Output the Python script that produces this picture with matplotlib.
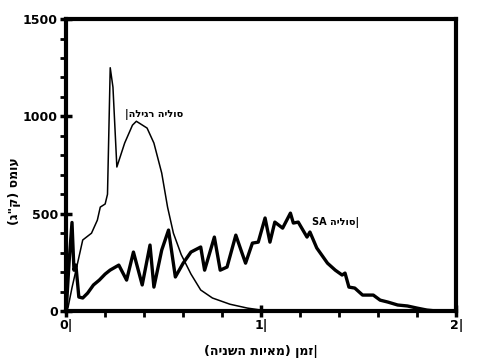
import numpy as np
import matplotlib.pyplot as plt
from matplotlib.ticker import MultipleLocator

plt.rcParams['font.family'] = ['DejaVu Sans']

# סוליה רגילה - thin curve
t_reg = [0, 0.01, 0.03, 0.055, 0.085, 0.13, 0.16, 0.175, 0.2, 0.212, 0.226, 0.24, 0.26,
         0.30, 0.34, 0.36, 0.415, 0.45, 0.49, 0.52, 0.55, 0.59, 0.64, 0.69,
         0.75, 0.84, 0.93, 1.0, 1.1]
v_reg = [0, 20, 120, 230, 365, 400, 467, 534, 550, 600, 1250, 1150, 740,
         863, 955, 975, 940, 863, 709, 534, 400, 290, 190, 108,
         67, 35, 15, 5, 0]

# סוליה SA - thick curve
t_sa = [0, 0.015, 0.03, 0.04, 0.05, 0.065, 0.085, 0.11, 0.14, 0.17, 0.2, 0.225,
        0.27, 0.31, 0.345, 0.39, 0.43, 0.45, 0.49, 0.525, 0.56, 0.60, 0.64,
        0.69, 0.71, 0.76, 0.79, 0.825, 0.87, 0.90, 0.92, 0.955, 0.985, 1.02,
        1.045, 1.07, 1.11, 1.15, 1.165, 1.19, 1.235, 1.25, 1.285, 1.34, 1.38,
        1.415, 1.43, 1.45, 1.48, 1.52, 1.575, 1.61, 1.65, 1.70, 1.75, 1.80,
        1.85, 1.9]
v_sa = [0, 250, 455, 210, 236, 72, 67, 92, 134, 159, 190, 210,
        236, 159, 303, 134, 339, 123, 313, 416, 175, 246, 303,
        329, 210, 380, 210, 226, 390, 303, 246, 349, 354, 478,
        354, 457, 426, 503, 452, 457, 380, 406, 324, 246, 210,
        185, 195, 123, 118, 82, 82, 56, 46, 31, 26, 15,
        5, 0]

xticks = [0, 1, 2]
xticklabels = ['0|', '1|', '2|']
yticks = [0, 500, 1000, 1500]

# hebrew text given in visual order (matplotlib draws left to right)
xlabel = '(הינשה תויאמ) ןמז|'
ylabel = '(ג"ק) סמוע'
lbl_reg = '|הליגר הילוס'
lbl_sa = 'SA הילוס|'

fig = plt.figure(figsize=(4.9, 3.6), dpi=100)
ax = fig.add_axes([0.135, 0.136, 0.796, 0.811])

ax.plot(t_reg, v_reg, color='black', lw=1.1)
ax.plot(t_sa, v_sa, color='black', lw=2.4)

ax.set_xlim(0, 2)
ax.set_ylim(0, 1500)
ax.set_xticks(xticks)
ax.set_xticklabels(xticklabels)
ax.set_yticks(yticks)
ax.xaxis.set_minor_locator(MultipleLocator(0.2))
ax.yaxis.set_minor_locator(MultipleLocator(100))
ax.tick_params(which='major', direction='inout', length=8, width=2.5,
               labelsize=9, pad=2)
ax.tick_params(which='minor', direction='out', length=4, width=2)
for lab in ax.get_xticklabels() + ax.get_yticklabels():
    lab.set_fontweight('bold')

for s in ax.spines.values():
    s.set_linewidth(3)

ax.set_xlabel(xlabel, fontsize=9, fontweight='bold', labelpad=9)
ax.set_ylabel(ylabel, fontsize=9, fontweight='bold')
ax.yaxis.set_label_coords(-0.115, 0.41)

ax.text(0.30, 1010, lbl_reg, fontsize=7, fontweight='bold', va='center')
ax.text(1.26, 457, lbl_sa, fontsize=7, fontweight='bold', va='center')

fig.savefig('out.png', dpi=100)
